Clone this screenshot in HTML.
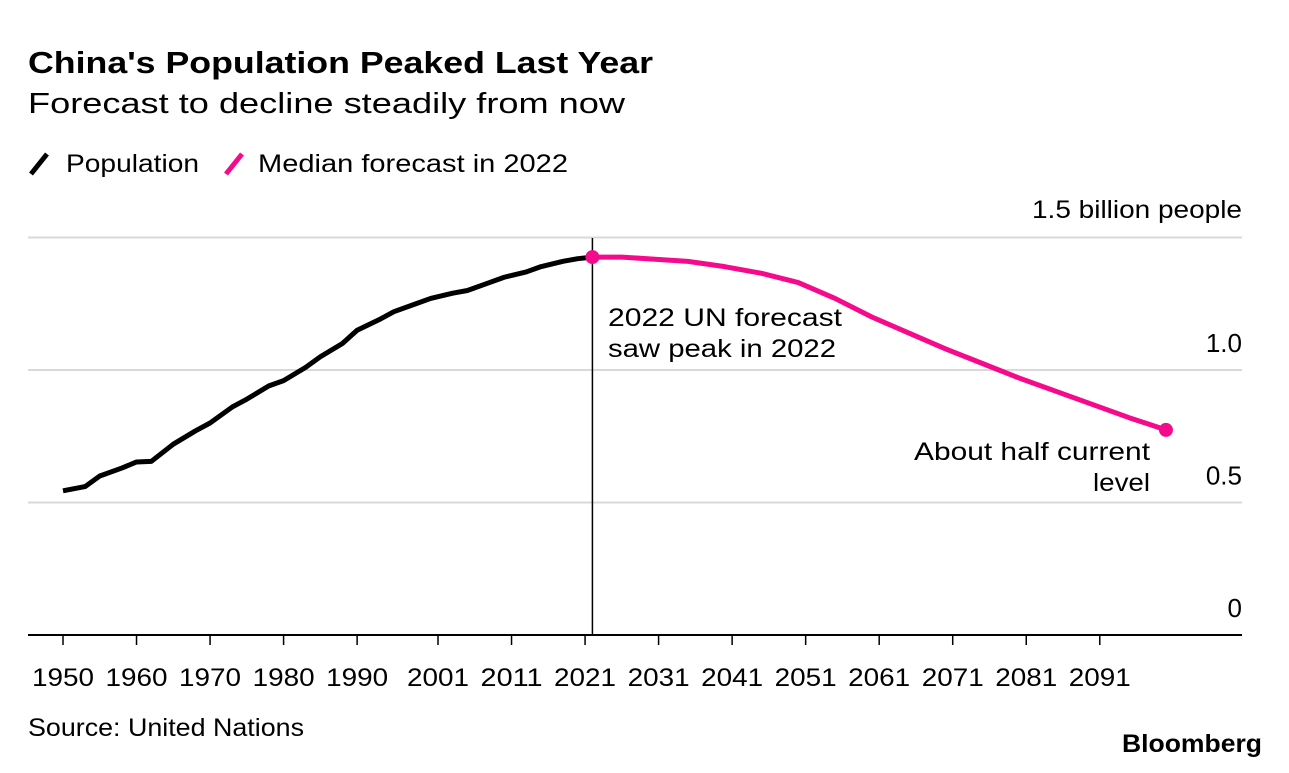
<!DOCTYPE html>
<html><head><meta charset="utf-8"><style>
body{margin:0;background:#fff;}
svg text{font-family:"Liberation Sans",Arial,sans-serif;fill:#000;}
</style></head><body>
<svg width="1289" height="768">
<text x="28" y="73" font-size="31" font-weight="bold" textLength="625" lengthAdjust="spacingAndGlyphs">China's Population Peaked Last Year</text>
<text x="28" y="113" font-size="29" textLength="597" lengthAdjust="spacingAndGlyphs">Forecast to decline steadily from now</text>
<g>
<line x1="31" y1="174" x2="47" y2="154" stroke="#000" stroke-width="5"/>
<text x="66" y="172" font-size="25" textLength="133" lengthAdjust="spacingAndGlyphs">Population</text>
<line x1="226" y1="174" x2="242" y2="154" stroke="#f50a8c" stroke-width="5"/>
<text x="258" y="172" font-size="25" textLength="310" lengthAdjust="spacingAndGlyphs">Median forecast in 2022</text>
</g>
<text x="1032" y="218" font-size="25" textLength="210" lengthAdjust="spacingAndGlyphs">1.5 billion people</text>
<g id="grid"></g><g id="xaxis"></g><g id="series"></g>
<text x="608" y="326" font-size="25"><tspan x="608" textLength="234" lengthAdjust="spacingAndGlyphs">2022 UN forecast</tspan><tspan x="608" dy="31" textLength="228" lengthAdjust="spacingAndGlyphs">saw peak in 2022</tspan></text>
<text x="914" y="460" font-size="25"><tspan x="914" textLength="236" lengthAdjust="spacingAndGlyphs">About half current</tspan><tspan x="1093" dy="31" textLength="57" lengthAdjust="spacingAndGlyphs">level</tspan></text>
<text x="28" y="736" font-size="25" textLength="276" lengthAdjust="spacingAndGlyphs">Source: United Nations</text>
<text x="1122" y="752" font-size="25" font-weight="bold" textLength="140" lengthAdjust="spacingAndGlyphs">Bloomberg</text>
</svg>
<script>
const yTicks=[0,0.5,1.0,1.5];
const yTickLabels=["0","0.5","1.0",""];
const xTickYears=[1950,1960,1970,1980,1990,2001,2011,2021,2031,2041,2051,2061,2071,2081,2091];
const popYears=[1950,1953,1955,1958,1960,1962,1965,1968,1970,1973,1975,1978,1980,1983,1985,1988,1990,1993,1995,1998,2000,2003,2005,2008,2010,2013,2015,2018,2020,2022];
const popValues=[0.544,0.56,0.60,0.63,0.653,0.655,0.72,0.77,0.80,0.86,0.89,0.94,0.96,1.01,1.05,1.10,1.15,1.19,1.22,1.25,1.27,1.29,1.30,1.33,1.35,1.37,1.39,1.41,1.42,1.426];
const fcYears=[2022,2026,2030,2035,2040,2045,2050,2055,2060,2065,2070,2075,2080,2085,2090,2095,2100];
const fcValues=[1.426,1.426,1.419,1.41,1.39,1.365,1.33,1.27,1.20,1.14,1.08,1.025,0.97,0.92,0.87,0.82,0.774];
const X=y=>63+(y-1950)*7.353;
const Y=v=>635-v*265;
const NS="http://www.w3.org/2000/svg";
function mk(tag,attrs,parent){const e=document.createElementNS(NS,tag);for(const k in attrs)e.setAttribute(k,attrs[k]);parent.appendChild(e);return e;}
const grid=document.getElementById('grid');
yTicks.forEach((t,i)=>{
 if(t>0){const l=mk('line',{x1:28,x2:1242,y1:Y(t),y2:Y(t),stroke:'#d9d9d9','stroke-width':2},grid);
 
 }
 if(yTickLabels[i]){const tx=mk('text',{x:1242,y:Y(t)-18,'font-size':26,'text-anchor':'end'},grid);tx.textContent=yTickLabels[i];
 
 }
});
const xa=document.getElementById('xaxis');
const base=mk('line',{x1:28,x2:1242,y1:635,y2:635,stroke:'#000','stroke-width':2},xa);


xTickYears.forEach(yr=>{
 const t=mk('line',{x1:X(yr),x2:X(yr),y1:635,y2:645,stroke:'#000','stroke-width':1.5},xa);
 
 
 const tx=mk('text',{x:X(yr)-31,y:686,'font-size':25,textLength:62,lengthAdjust:'spacingAndGlyphs'},xa);tx.textContent=yr;
 
 
});
const s=document.getElementById('series');
const vl=mk('line',{x1:X(2022),x2:X(2022),y1:238,y2:635,stroke:'#000','stroke-width':1.5},s);


const p1=mk('polyline',{points:popYears.map((y,i)=>X(y)+','+Y(popValues[i])).join(' '),fill:'none',stroke:'#000','stroke-width':5,'stroke-linejoin':'round'},s);


const p2=mk('polyline',{points:fcYears.map((y,i)=>X(y)+','+Y(fcValues[i])).join(' '),fill:'none',stroke:'#f50a8c','stroke-width':5,'stroke-linejoin':'round'},s);


const d1=mk('circle',{cx:X(fcYears[0]),cy:Y(fcValues[0]),r:7,fill:'#f50a8c'},s);


const n=fcYears.length-1;
const d2=mk('circle',{cx:X(fcYears[n]),cy:Y(fcValues[n]),r:7,fill:'#f50a8c'},s);


</script>
</body></html>
